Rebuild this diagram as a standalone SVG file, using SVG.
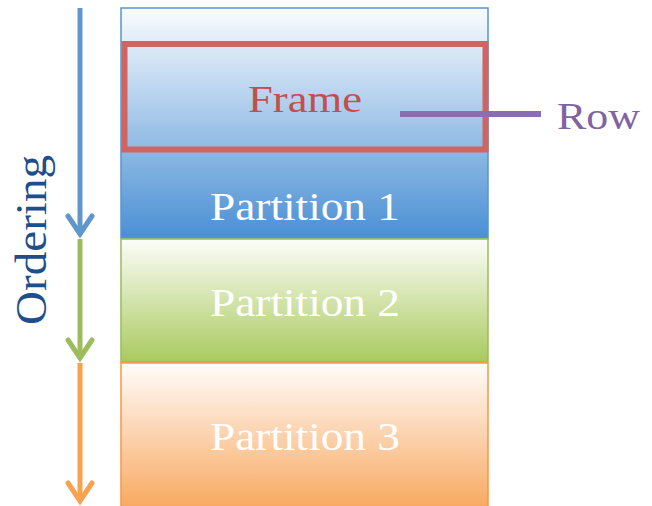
<svg xmlns="http://www.w3.org/2000/svg" width="652" height="506" viewBox="0 0 652 506">
<defs>
<linearGradient id="gBlue" x1="0" y1="0" x2="0" y2="1"><stop offset="0" stop-color="#fafcfe"/><stop offset="1" stop-color="#4a8fd4"/></linearGradient>
<linearGradient id="gGreen" x1="0" y1="0" x2="0" y2="1"><stop offset="0" stop-color="#fcfdf9"/><stop offset="1" stop-color="#a9ca5e"/></linearGradient>
<linearGradient id="gOrange" x1="0" y1="0" x2="0" y2="1"><stop offset="0" stop-color="#fffcfa"/><stop offset="1" stop-color="#f8a65b"/></linearGradient>
</defs>
<style>
.lbl{font-family:"Liberation Serif","DejaVu Serif",serif;font-size:40px;text-anchor:middle;fill:#ffffff}
.arr{fill:none;stroke-width:5;stroke-linecap:butt;stroke-linejoin:round}
.head{fill:none;stroke-width:5;stroke-linecap:round;stroke-linejoin:miter}
</style>
<g id="partition1">
<rect x="121" y="8" width="367" height="230" fill="url(#gBlue)" stroke="#5b93cf" stroke-width="1.5"/>
<text class="lbl" x="305" y="220" textLength="190" lengthAdjust="spacingAndGlyphs">Partition 1</text>
</g>
<g id="partition2">
<rect x="121" y="239" width="367" height="123" fill="url(#gGreen)" stroke="#9bbb59" stroke-width="1.5"/>
<text class="lbl" x="305" y="316" textLength="190" lengthAdjust="spacingAndGlyphs">Partition 2</text>
</g>
<g id="partition3">
<rect x="121" y="363" width="367" height="150" fill="url(#gOrange)" stroke="#f79646" stroke-width="1.5"/>
<text class="lbl" x="305" y="450" textLength="190" lengthAdjust="spacingAndGlyphs">Partition 3</text>
</g>
<g id="frame">
<rect x="124.5" y="44" width="361" height="105.5" fill="none" stroke="#cf6560" stroke-width="6"/>
<text x="305" y="112" font-family="Liberation Serif, DejaVu Serif, serif" font-size="38" text-anchor="middle" fill="#c0504d" textLength="114" lengthAdjust="spacingAndGlyphs">Frame</text>
</g>
<g id="row">
<text x="557" y="129" font-family="Liberation Serif, DejaVu Serif, serif" font-size="38" fill="#8064a2" textLength="83" lengthAdjust="spacingAndGlyphs">Row</text>
</g>
<g id="ordering">
<text x="0" y="0" transform="translate(46,240) rotate(-90)" font-family="Liberation Serif, DejaVu Serif, serif" font-size="44" text-anchor="middle" fill="#1f4e8c" textLength="170" lengthAdjust="spacingAndGlyphs">Ordering</text>
</g>
<g id="connectors">
<line x1="400" y1="114" x2="541" y2="114" stroke="#8a6eb0" stroke-width="6"/>
<line class="arr" x1="80" y1="8" x2="80" y2="234" stroke="#5f96cc"/>
<polyline class="head" points="68,216 80,234 92,216" stroke="#5f96cc"/>
<line class="arr" x1="80" y1="239" x2="80" y2="358" stroke="#9dbd5d"/>
<polyline class="head" points="68,340 80,358 92,340" stroke="#9dbd5d"/>
<line class="arr" x1="80" y1="363" x2="80" y2="501" stroke="#f7a24f"/>
<polyline class="head" points="68,483 80,501 92,483" stroke="#f7a24f"/>
</g>
</svg>
